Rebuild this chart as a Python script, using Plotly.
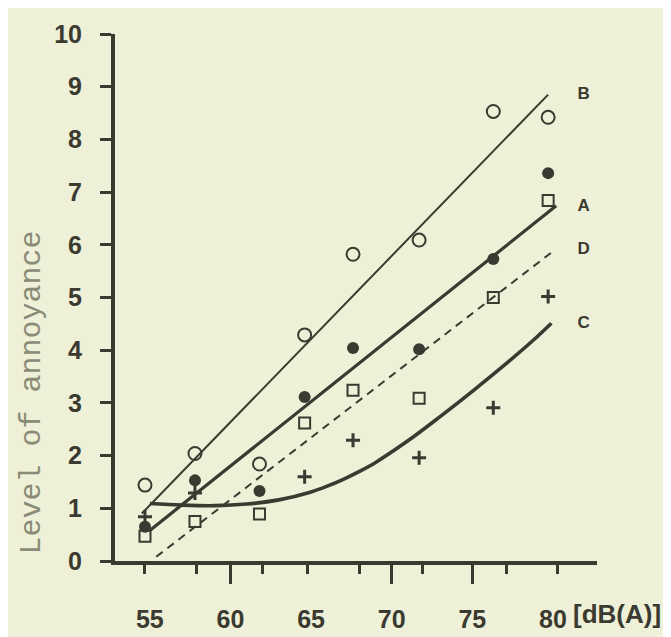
import plotly.graph_objects as go

# ---- data ----
x_levels = [54.7, 57.8, 61.8, 64.6, 67.6, 71.7, 76.3, 79.7]
open_circles = [1.44, 2.04, 1.84, 4.29, 5.82, 6.09, 8.53, 8.42]
filled_circles = [0.65, 1.53, 1.33, 3.11, 4.04, 4.02, 5.73, 7.36]
squares = [0.47, 0.75, 0.89, 2.62, 3.24, 3.09, 5.00, 6.84]
crosses = [0.84, 1.29, None, 1.60, 2.29, 1.96, 2.91, 5.02]

line_B_x = [54.5, 79.7]
line_B_y = [0.90, 8.85]
line_A_x = [55.0, 80.2]
line_A_y = [0.58, 6.74]
line_D_x = [55.4, 80.1]
line_D_y = [0.08, 5.90]
curve_C_x = [55.0, 57, 59, 61, 63, 65, 66, 67, 68, 69, 71, 73, 75, 77, 79, 79.9]
curve_C_y = [1.09, 1.06, 1.05, 1.08, 1.16, 1.31, 1.42, 1.55, 1.70, 1.87, 2.28, 2.74, 3.22, 3.72, 4.25, 4.51]

line_labels = ["B", "A", "D", "C"]
line_label_x = [81.9, 81.9, 81.9, 81.9]
line_label_y = [8.84, 6.73, 5.90, 4.50]

x_tick_vals = [55, 60, 65, 70, 75, 80]
x_tick_text = ["55", "60", "65", "70", "75", "80"]
x_long_ticks = [60, 70, 75]
x_short_ticks = [54.7, 57.9, 62.0, 64.8, 68.0, 71.9, 77.1, 80.3]
y_tick_vals = list(range(0, 11))

# ---- styles ----
INK = "#3a3a30"
BG = "#eef0d8"
TITLE_C = "#8a8b76"
XR = [52.84, 82.73]

fig = go.Figure()

fig.add_trace(go.Scatter(x=line_B_x, y=line_B_y, mode="lines",
                         line=dict(color=INK, width=2), hoverinfo="skip"))
fig.add_trace(go.Scatter(x=line_A_x, y=line_A_y, mode="lines",
                         line=dict(color=INK, width=3.2), hoverinfo="skip"))
fig.add_trace(go.Scatter(x=line_D_x, y=line_D_y, mode="lines", xaxis="x2",
                         line=dict(color=INK, width=2, dash="8px,6px"), hoverinfo="skip"))
fig.add_trace(go.Scatter(x=curve_C_x, y=curve_C_y, mode="lines",
                         line=dict(color=INK, width=3.6, shape="spline", smoothing=1.0),
                         hoverinfo="skip"))

fig.add_trace(go.Scatter(x=x_levels, y=open_circles, mode="markers",
                         marker=dict(symbol="circle-open", size=13, color=INK,
                                     line=dict(width=2, color=INK))))
fig.add_trace(go.Scatter(x=x_levels, y=filled_circles, mode="markers",
                         marker=dict(symbol="circle", size=12, color=INK,
                                     line=dict(width=0))))
fig.add_trace(go.Scatter(x=x_levels, y=squares, mode="markers",
                         marker=dict(symbol="square-open", size=11, color=INK,
                                     line=dict(width=2, color=INK))))
fig.add_trace(go.Scatter(x=x_levels, y=crosses, mode="markers",
                         marker=dict(symbol="cross-thin", size=10, color=INK,
                                     line=dict(width=3, color=INK))))

fig.add_trace(go.Scatter(x=line_label_x, y=line_label_y, mode="text",
                         text=line_labels, textposition="middle center",
                         textfont=dict(family="Liberation Sans", size=17, color=INK),
                         texttemplate="<b>%{text}</b>", hoverinfo="skip"))

fig.update_layout(
    width=671, height=637, autosize=False,
    margin=dict(l=107, r=82, t=23, b=64),
    paper_bgcolor=BG, plot_bgcolor=BG,
    showlegend=False,
    font=dict(family="Liberation Sans", color=INK),
    xaxis=dict(
        range=XR, showgrid=False, zeroline=False,
        showline=True, linewidth=4, linecolor=INK,
        tickmode="array", tickvals=x_tick_vals, ticktext=x_tick_text,
        ticks="outside", ticklen=33, tickcolor="rgba(0,0,0,0)",
        tickfont=dict(family="Liberation Sans", size=25, color=INK, weight="bold"),
        minor=dict(tickmode="array", tickvals=x_short_ticks, ticks="outside",
                   ticklen=9, tickwidth=3, tickcolor=INK, showgrid=False),
    ),
    xaxis2=dict(
        matches="x", overlaying="x", anchor="y", side="bottom",
        showgrid=False, zeroline=False, showline=False,
        tickmode="array", tickvals=x_long_ticks, showticklabels=False,
        ticks="outside", ticklen=22, tickwidth=3, tickcolor=INK,
    ),
    yaxis=dict(
        range=[0, 10], showgrid=False, zeroline=False,
        showline=True, linewidth=4, linecolor=INK,
        tickmode="array", tickvals=y_tick_vals,
        ticks="outside", ticklen=11, tickwidth=3, tickcolor=INK,
        ticklabelstandoff=13,
        tickfont=dict(family="Liberation Sans", size=25, color=INK, weight="bold"),
    ),
    annotations=[
        dict(text="Level of annoyance", textangle=-90, xref="paper", yref="paper",
             x=-0.172, y=0.32, xanchor="center", yanchor="middle", showarrow=False,
             font=dict(family="Liberation Mono", size=30, color=TITLE_C)),
        dict(text="<b>[dB(A)]</b>", xref="x", yref="paper", x=80, y=-0.1,
             xanchor="left", yanchor="middle", xshift=18, showarrow=False,
             font=dict(family="Liberation Sans", size=26, color=INK)),
    ],
)

fig.write_html("out.html")
